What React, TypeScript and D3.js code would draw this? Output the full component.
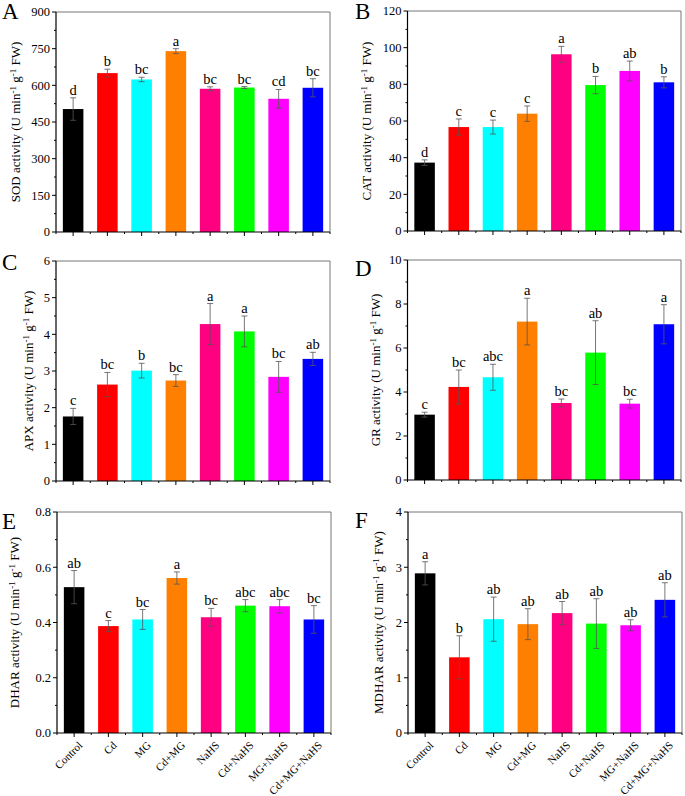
import React from "react";
import * as d3 from "d3";

// treatment groups, same order in every panel
const categories = ["Control", "Cd", "MG", "Cd+MG", "NaHS", "Cd+NaHS", "MG+NaHS", "Cd+MG+NaHS"];
const barColors = ["#000000", "#ff0000", "#00ffff", "#ff8000", "#ff0080", "#00ff00", "#ff00ff", "#0000ff"];

// A - SOD
const sodMean = [503, 650, 624, 740, 586, 591, 545, 590];
const sodErr = [46, 16, 9, 10, 8, 4, 38, 37];
const sodGroups = ["d", "b", "bc", "a", "bc", "bc", "cd", "bc"];
const sodTicks = [0, 150, 300, 450, 600, 750, 900];

// B - CAT
const catMean = [37.3, 56.7, 56.7, 64.0, 96.4, 79.6, 87.3, 81.1];
const catErr = [1.5, 4.4, 3.8, 4.2, 4.3, 4.7, 5.4, 3.0];
const catGroups = ["d", "c", "c", "c", "a", "b", "ab", "b"];
const catTicks = [0, 20, 40, 60, 80, 100, 120];

// C - APX
const apxMean = [1.76, 2.63, 3.01, 2.74, 4.28, 4.08, 2.84, 3.33];
const apxErr = [0.22, 0.33, 0.2, 0.16, 0.56, 0.42, 0.42, 0.18];
const apxGroups = ["c", "bc", "b", "bc", "a", "a", "bc", "ab"];
const apxTicks = [0, 1, 2, 3, 4, 5, 6];

// D - GR
const grMean = [2.97, 4.23, 4.67, 7.2, 3.5, 5.79, 3.47, 7.08];
const grErr = [0.11, 0.77, 0.59, 1.06, 0.18, 1.45, 0.2, 0.89];
const grGroups = ["c", "bc", "abc", "a", "bc", "ab", "bc", "a"];
const grTicks = [0, 2, 4, 6, 8, 10];

// E - DHAR
const dharMean = [0.528, 0.387, 0.411, 0.561, 0.419, 0.461, 0.459, 0.411];
const dharErr = [0.06, 0.02, 0.036, 0.022, 0.032, 0.022, 0.024, 0.05];
const dharGroups = ["ab", "c", "bc", "a", "bc", "abc", "abc", "bc"];
const dharTicks = [0, 0.2, 0.4, 0.6, 0.8];

// F - MDHAR
const mdharMean = [2.89, 1.37, 2.06, 1.97, 2.17, 1.98, 1.95, 2.41];
const mdharErr = [0.21, 0.39, 0.4, 0.28, 0.21, 0.45, 0.1, 0.31];
const mdharGroups = ["a", "b", "ab", "ab", "ab", "ab", "ab", "ab"];
const mdharTicks = [0, 1, 2, 3, 4];

const FONT = "'Times New Roman', 'Liberation Serif', serif";

const panels = [
  { tag: "A", enzyme: "SOD", mean: sodMean, err: sodErr, groups: sodGroups, ticks: sodTicks, fmt: "d",
    x0: 56, x1: 330, y0: 12, y1: 232, titleX: 20, tagX: 2, tagY: 19, labels: false },
  { tag: "B", enzyme: "CAT", mean: catMean, err: catErr, groups: catGroups, ticks: catTicks, fmt: "d",
    x0: 407.5, x1: 681, y0: 11, y1: 231, titleX: 371, tagX: 355, tagY: 19, labels: false },
  { tag: "C", enzyme: "APX", mean: apxMean, err: apxErr, groups: apxGroups, ticks: apxTicks, fmt: "d",
    x0: 56, x1: 330, y0: 261, y1: 481, titleX: 33, tagX: 2, tagY: 270, labels: false },
  { tag: "D", enzyme: "GR", mean: grMean, err: grErr, groups: grGroups, ticks: grTicks, fmt: "d",
    x0: 407.5, x1: 681, y0: 260, y1: 480, titleX: 380, tagX: 355, tagY: 276, labels: false },
  { tag: "E", enzyme: "DHAR", mean: dharMean, err: dharErr, groups: dharGroups, ticks: dharTicks, fmt: ".1f",
    x0: 57, x1: 331, y0: 512, y1: 733, titleX: 19, tagX: 2, tagY: 529, labels: true },
  { tag: "F", enzyme: "MDHAR", mean: mdharMean, err: mdharErr, groups: mdharGroups, ticks: mdharTicks, fmt: "d",
    x0: 408, x1: 682, y0: 512, y1: 733, titleX: 383, tagX: 355, tagY: 528, labels: true },
];

function Panel({ p }: { p: any }) {
  const x = d3.scaleBand().domain(categories).range([p.x0, p.x1]).paddingInner(0.4).paddingOuter(0.2);
  const yMax = p.ticks[p.ticks.length - 1];
  const y = d3.scaleLinear().domain([0, yMax]).range([p.y1, p.y0]);
  const step = p.ticks[1] - p.ticks[0];
  const minor = d3.range(p.ticks.length - 1).map((i) => p.ticks[i] + step / 2);
  const fmt = d3.format(p.fmt);
  const bw = x.bandwidth();
  const cy = (p.y0 + p.y1) / 2;

  return (
    <g fontFamily={FONT}>
      {/* frame: top and right in grey */}
      <line x1={p.x0} x2={p.x1} y1={p.y0} y2={p.y0} stroke="#777" strokeWidth={1} />
      <line x1={p.x1} x2={p.x1} y1={p.y0} y2={p.y1} stroke="#777" strokeWidth={1} />

      {categories.map((c, i) => {
        const cx = x(c)! + bw / 2;
        const top = y(p.mean[i] + p.err[i]);
        const bot = y(p.mean[i] - p.err[i]);
        return (
          <g key={c}>
            <rect x={x(c)} y={y(p.mean[i])} width={bw} height={p.y1 - y(p.mean[i])} fill={barColors[i]} />
            <line x1={cx} x2={cx} y1={top} y2={bot} stroke="#555" strokeWidth={0.8} />
            <line x1={cx - 3} x2={cx + 3} y1={top} y2={top} stroke="#555" strokeWidth={0.8} />
            <line x1={cx - 3} x2={cx + 3} y1={bot} y2={bot} stroke="#555" strokeWidth={0.8} />
            <text x={cx} y={top - 3} textAnchor="middle" fontSize={14.5}>{p.groups[i]}</text>
          </g>
        );
      })}

      {/* left axis */}
      <line x1={p.x0} x2={p.x0} y1={p.y0} y2={p.y1} stroke="#000" strokeWidth={1.2} />
      {p.ticks.map((t: number) => (
        <g key={t}>
          <line x1={p.x0 - 4} x2={p.x0} y1={y(t)} y2={y(t)} stroke="#000" strokeWidth={1} />
          <text x={p.x0 - 6} y={y(t)} dy="0.34em" textAnchor="end" fontSize={12.5}>{fmt(t)}</text>
        </g>
      ))}
      {minor.map((t: number) => (
        <line key={t} x1={p.x0 - 2} x2={p.x0} y1={y(t)} y2={y(t)} stroke="#000" strokeWidth={1} />
      ))}

      {/* bottom axis */}
      <line x1={p.x0} x2={p.x1} y1={p.y1} y2={p.y1} stroke="#000" strokeWidth={1.2} />
      {categories.map((c, i) => {
        const cx = x(c)! + bw / 2;
        const edge = x(c)! - (x.step() - bw) / 2;
        return (
          <g key={c}>
            <line x1={cx} x2={cx} y1={p.y1} y2={p.y1 + 4} stroke="#000" strokeWidth={1} />
            <line x1={edge} x2={edge} y1={p.y1} y2={p.y1 + 2} stroke="#000" strokeWidth={1} />
            {p.labels && (
              <text transform={`translate(${cx + 9},${p.y1 + 13}) rotate(-45)`} textAnchor="end" fontSize={11}>{c}</text>
            )}
          </g>
        );
      })}
      <line x1={p.x1} x2={p.x1} y1={p.y1} y2={p.y1 + 2} stroke="#000" strokeWidth={1} />

      {/* y title */}
      <text transform={`translate(${p.titleX},${cy}) rotate(-90)`} textAnchor="middle" fontSize={13}>
        {p.enzyme} activity (U min<tspan dy={-4} fontSize={9}>-1</tspan>
        <tspan dy={4}> g</tspan><tspan dy={-4} fontSize={9}>-1</tspan>
        <tspan dy={4}> FW)</tspan>
      </text>

      <text x={p.tagX} y={p.tagY} fontSize={23}>{p.tag}</text>
    </g>
  );
}

export default function App() {
  return (
    <svg width={685} height={796} style={{ position: "absolute", left: 0, top: 0, background: "#fff" }}>
      <rect width={685} height={796} fill="#fff" />
      {panels.map((p) => (
        <Panel key={p.tag} p={p} />
      ))}
    </svg>
  );
}
